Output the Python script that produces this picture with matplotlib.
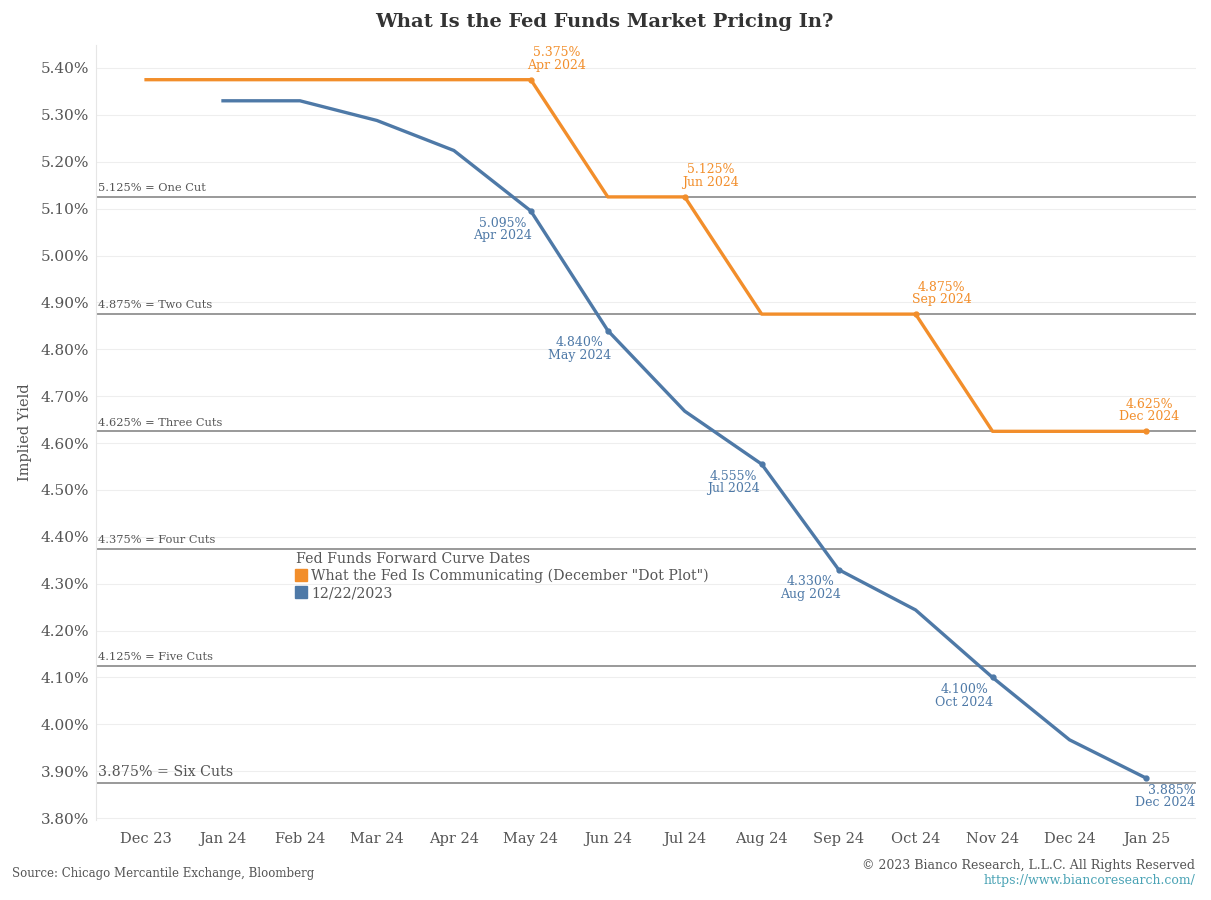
import matplotlib
matplotlib.use("Agg")
import matplotlib.pyplot as plt
import numpy as np
from matplotlib.lines import Line2D

months = ["Dec 23", "Jan 24", "Feb 24", "Mar 24", "Apr 24", "May 24", "Jun 24",
          "Jul 24", "Aug 24", "Sep 24", "Oct 24", "Nov 24", "Dec 24", "Jan 25"]
fed_dots = [5.375, 5.375, 5.375, 5.375, 5.375, 5.375, 5.125,
            5.125, 4.875, 4.875, 4.875, 4.625, 4.625, 4.625]
market = [None, 5.330, 5.330, 5.288, 5.224, 5.095, 4.840,
          4.668, 4.555, 4.330, 4.244, 4.100, 3.967, 3.885]
fed_labels = {5: ("5.375%", "Apr 2024"), 7: ("5.125%", "Jun 2024"),
              10: ("4.875%", "Sep 2024"), 13: ("4.625%", "Dec 2024")}
mkt_labels = {5: ("5.095%", "Apr 2024"), 6: ("4.840%", "May 2024"),
              8: ("4.555%", "Jul 2024"), 9: ("4.330%", "Aug 2024"),
              11: ("4.100%", "Oct 2024"), 13: ("3.885%", "Dec 2024")}
cut_levels = [5.125, 4.875, 4.625, 4.375, 4.125, 3.875]
cut_names = ["One Cut", "Two Cuts", "Three Cuts", "Four Cuts", "Five Cuts", "Six Cuts"]
yticks = [3.8, 3.9, 4.0, 4.1, 4.2, 4.3, 4.4, 4.5, 4.6, 4.7, 4.8, 4.9, 5.0, 5.1, 5.2, 5.3, 5.4]

ORANGE = "#F28E2B"
BLUE = "#4E79A7"
TXT = "#555555"
plt.rcParams['font.family'] = ["DejaVu Serif"]

fig = plt.figure(figsize=(12.11, 9.0), dpi=100)
ax = fig.add_axes([0.0793, 0.0889, 0.9087, 0.8611])

x = np.arange(len(months))
ax.set_xlim(-0.65, 13.65)
ax.set_ylim(3.796, 5.449)

for yv in yticks:
    ax.axhline(yv, color="#eeeeee", lw=0.8, zorder=0)

for lvl, name in zip(cut_levels, cut_names):
    ax.axhline(lvl, color="#999999", lw=1.4, zorder=1)
    fs = 10.3 if name == "Six Cuts" else 8.2
    ax.text(-0.63, lvl + 0.008, f"{lvl:.3f}% = {name}", fontsize=fs, color=TXT,
            ha="left", va="bottom", zorder=2)

ax.plot(x, fed_dots, color=ORANGE, lw=2.4, zorder=3)
mx = [xi for xi, v in zip(x, market) if v is not None]
my = [v for v in market if v is not None]
ax.plot(mx, my, color=BLUE, lw=2.4, zorder=4)

for i, (v, m) in fed_labels.items():
    ax.plot(x[i], fed_dots[i], "o", color=ORANGE, ms=3.5, zorder=5)
    dx = 0.34 if i < 13 else 0.04
    ax.annotate(f"{v}\n{m}", (x[i], fed_dots[i]), xytext=(x[i] + dx, fed_dots[i] + 0.017),
                textcoords="data", ha="center", va="bottom", fontsize=9,
                color=ORANGE, linespacing=0.95)

for i, (v, m) in mkt_labels.items():
    ax.plot(x[i], market[i], "o", color=BLUE, ms=3.5, zorder=5)
    if i == 13:
        ax.annotate(f"{v}\n{m}", (x[i], market[i]), xytext=(x[i] + 0.64, market[i] - 0.012),
                    textcoords="data", ha="right", va="top", fontsize=9,
                    color=BLUE, linespacing=0.95)
    else:
        ax.annotate(f"{v}\n{m}", (x[i], market[i]), xytext=(x[i] - 0.37, market[i] - 0.012),
                    textcoords="data", ha="center", va="top", fontsize=9,
                    color=BLUE, linespacing=0.95)

ax.set_xticks(x)
ax.set_xticklabels(months, fontsize=10.5, color=TXT)
ax.set_yticks(yticks)
ax.set_yticklabels([f"{t:.2f}%" for t in yticks], fontsize=11, color=TXT)
ax.tick_params(axis="y", length=0, pad=5)
ax.tick_params(axis="x", length=0, pad=9)
for s in ["top", "right", "bottom"]:
    ax.spines[s].set_visible(False)
ax.spines["left"].set_color("#e6e6e6")
ax.set_ylabel("Implied Yield", fontsize=10.5, color=TXT, labelpad=6)

handles = [Line2D([], [], marker="s", ls="", color=ORANGE, ms=9),
           Line2D([], [], marker="s", ls="", color=BLUE, ms=9)]
leg = ax.legend(handles, ['What the Fed Is Communicating (December "Dot Plot")', "12/22/2023"],
                title="Fed Funds Forward Curve Dates", loc="upper left",
                bbox_to_anchor=(0.175, 0.355), frameon=False, fontsize=10.2,
                title_fontsize=10.2, handletextpad=0.3, handlelength=0.8,
                borderpad=0, labelspacing=0.2, alignment="left")
for t in leg.get_texts():
    t.set_color(TXT)
leg.get_title().set_color(TXT)

fig.text(0.499, 0.976, "What Is the Fed Funds Market Pricing In?", ha="center", va="center",
         fontsize=14, fontweight="bold", color="#333333")
fig.text(0.01, 0.030, "Source: Chicago Mercantile Exchange, Bloomberg", fontsize=8.5,
         color=TXT, ha="left", va="center")
fig.text(0.987, 0.038, "\u00a9 2023 Bianco Research, L.L.C. All Rights Reserved", fontsize=9,
         color=TXT, ha="right", va="center")
fig.text(0.987, 0.022, "https://www.biancoresearch.com/", fontsize=9,
         color="#4aa3b5", ha="right", va="center")

fig.savefig("out.png", dpi=100, facecolor="white")
